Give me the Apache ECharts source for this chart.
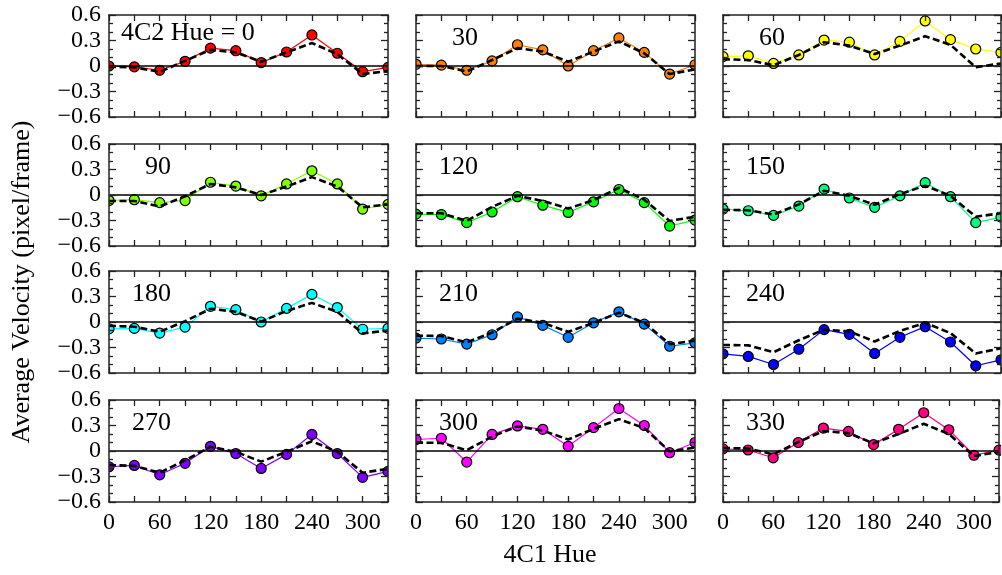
<!DOCTYPE html>
<html><head><meta charset="utf-8">
<script src="https://cdn.jsdelivr.net/npm/echarts@6/dist/echarts.min.js"></script>
<style>html,body{margin:0;padding:0;background:#fff}#c{width:1002px;height:575px}</style>
</head><body><div id="c"></div>
<script>
const x1Hue = [0, 30, 60, 90, 120, 150, 180, 210, 240, 270, 300, 330];
const panelHue = [0, 30, 60, 90, 120, 150, 180, 210, 240, 270, 300, 330];
const xTickLabels = ['0', '60', '120', '180', '240', '300'];
const yTickLabels = ['0.6', '0.3', '0', '\u22120.3', '\u22120.6'];

const obs0   = [0.0, -0.01, -0.05, 0.055, 0.21, 0.18, 0.04, 0.165, 0.365, 0.15, -0.067, -0.016];
const fit0   = [-0.01, -0.015, -0.07, 0.06, 0.19, 0.16, 0.05, 0.16, 0.27, 0.14, -0.095, -0.06];
const obs30  = [0.02, 0.01, -0.05, 0.06, 0.25, 0.19, 0.0, 0.18, 0.33, 0.16, -0.095, 0.015];
const fit30  = [0.0, 0.0, -0.065, 0.07, 0.21, 0.17, 0.05, 0.17, 0.29, 0.15, -0.095, -0.04];
const obs60  = [0.11, 0.12, 0.03, 0.13, 0.305, 0.28, 0.13, 0.29, 0.53, 0.31, 0.2, 0.16];
const fit60  = [0.08, 0.07, 0.01, 0.13, 0.28, 0.24, 0.14, 0.24, 0.35, 0.25, -0.015, 0.03];
const obs90  = [-0.065, -0.055, -0.09, -0.065, 0.15, 0.105, -0.01, 0.13, 0.285, 0.13, -0.165, -0.11];
const fit90  = [-0.07, -0.07, -0.135, -0.015, 0.13, 0.09, 0.0, 0.1, 0.21, 0.1, -0.145, -0.11];
const obs120 = [-0.225, -0.23, -0.325, -0.2, -0.02, -0.12, -0.205, -0.08, 0.065, -0.09, -0.365, -0.295];
const fit120 = [-0.215, -0.215, -0.305, -0.14, -0.01, -0.07, -0.16, -0.06, 0.085, -0.055, -0.305, -0.255];
const obs150 = [-0.165, -0.185, -0.24, -0.13, 0.07, -0.035, -0.145, -0.01, 0.145, -0.02, -0.325, -0.26];
const fit150 = [-0.175, -0.18, -0.23, -0.11, 0.05, -0.01, -0.115, 0.01, 0.11, -0.01, -0.255, -0.215];
const obs180 = [-0.08, -0.075, -0.13, -0.06, 0.185, 0.145, 0.0, 0.16, 0.325, 0.17, -0.085, -0.075];
const fit180 = [-0.045, -0.055, -0.115, 0.01, 0.155, 0.12, 0.005, 0.13, 0.225, 0.12, -0.135, -0.1];
const obs210 = [-0.19, -0.2, -0.26, -0.15, 0.06, -0.04, -0.18, -0.01, 0.12, -0.025, -0.285, -0.245];
const fit210 = [-0.16, -0.165, -0.24, -0.125, 0.04, -0.01, -0.115, -0.01, 0.11, -0.01, -0.26, -0.22];
const obs240 = [-0.375, -0.405, -0.5, -0.32, -0.09, -0.145, -0.37, -0.18, -0.055, -0.235, -0.515, -0.445];
const fit240 = [-0.27, -0.275, -0.355, -0.215, -0.09, -0.11, -0.23, -0.105, -0.01, -0.13, -0.37, -0.31];
const obs270 = [-0.185, -0.17, -0.28, -0.145, 0.055, -0.03, -0.205, -0.04, 0.195, -0.03, -0.31, -0.24];
const fit270 = [-0.165, -0.175, -0.255, -0.11, 0.05, -0.01, -0.125, -0.01, 0.115, -0.01, -0.255, -0.21];
const obs300 = [0.135, 0.15, -0.13, 0.195, 0.295, 0.255, 0.055, 0.275, 0.5, 0.3, -0.02, 0.1];
const fit300 = [0.1, 0.095, 0.01, 0.17, 0.29, 0.24, 0.135, 0.26, 0.375, 0.27, -0.005, 0.04];
const obs330 = [0.025, 0.012, -0.08, 0.1, 0.27, 0.23, 0.075, 0.255, 0.45, 0.25, -0.05, 0.01];
const fit330 = [0.035, 0.03, -0.04, 0.105, 0.235, 0.21, 0.09, 0.2, 0.32, 0.2, -0.06, -0.01];

const observed = [obs0, obs30, obs60, obs90, obs120, obs150, obs180, obs210, obs240, obs270, obs300, obs330];
const fitted = [fit0, fit30, fit60, fit90, fit120, fit150, fit180, fit210, fit240, fit270, fit300, fit330];
const panelColors = ['#ff0000', '#ff8000', '#ffff00', '#80ff00', '#00ff00', '#00ff80',
                     '#00ffff', '#0080ff', '#0000ff', '#8000ff', '#ff00ff', '#ff0080'];

const FONT = '"Liberation Serif", "Times New Roman", serif';
const colLeft = [109, 416, 723];
const colWidth = [279, 279, 278];
const rowTop = [15, 144, 271, 400];
const H = 102;

const grids = [], xAxes = [], yAxes = [], series = [], graphics = [];
const lineAx = { lineStyle: { color: '#222', width: 1.5 } };

panelHue.forEach((hue, i) => {
  const r = Math.floor(i / 3), c = i % 3;
  const L = colLeft[c], T = rowTop[r], W = colWidth[c];
  grids.push({ left: L, top: T, width: W, height: H, show: false });
  const bottomRow = r === 3, leftCol = c === 0;
  // bottom x axis
  xAxes.push({
    type: 'value', gridIndex: i, position: 'bottom', min: 0, max: 330, interval: 30, z: 10,
    axisLine: { show: true, onZero: false, lineStyle: { color: '#222', width: 1.5 } },
    axisTick: { show: true, inside: true, length: 6, lineStyle: { color: '#222', width: 1.3 } },
    splitLine: { show: false },
    axisLabel: {
      show: bottomRow, margin: 9, color: '#000', fontFamily: FONT, fontSize: 24,
      formatter: v => (v % 60 === 0 && xTickLabels.indexOf(String(v)) >= 0) ? String(v) : ''
    }
  });
  // top mirror x axis
  xAxes.push({
    type: 'value', gridIndex: i, position: 'top', min: 0, max: 330, interval: 30, z: 10,
    axisLine: { show: true, onZero: false, lineStyle: { color: '#222', width: 1.5 } },
    axisTick: { show: true, inside: true, length: 6, lineStyle: { color: '#222', width: 1.3 } },
    splitLine: { show: false }, axisLabel: { show: false }
  });
  const yCommon = {
    type: 'value', gridIndex: i, min: -0.6, max: 0.6, interval: 0.3, z: 10,
    axisLine: { show: true, onZero: false, lineStyle: { color: '#222', width: 1.5 } },
    axisTick: { show: true, inside: true, length: 7, lineStyle: { color: '#222', width: 1.3 } },
    minorTick: { show: true, splitNumber: 3, length: 4, lineStyle: { color: '#222', width: 1.3 } },
    splitLine: { show: false }, minorSplitLine: { show: false }
  };
  yAxes.push(Object.assign({}, yCommon, {
    position: 'left',
    axisLabel: {
      show: leftCol, margin: 8, color: '#000', fontFamily: FONT, fontSize: 24,
      formatter: v => {
        const k = Math.round((0.6 - v) / 0.3);
        return yTickLabels[k] !== undefined ? yTickLabels[k] : '';
      }
    }
  }));
  yAxes.push(Object.assign({}, yCommon, { position: 'right', axisLabel: { show: false } }));

  const xi = i * 2, yi = i * 2;
  series.push({
    type: 'line', xAxisIndex: xi, yAxisIndex: yi, z: 3,
    data: x1Hue.map((x, k) => [x, observed[i][k]]),
    symbol: 'circle', symbolSize: 10,
    lineStyle: { color: panelColors[i], width: 1.2 },
    itemStyle: { color: panelColors[i], borderColor: '#000', borderWidth: 1.2 },
    emphasis: { disabled: true }, animation: false,
    markLine: {
      silent: true, symbol: 'none', label: { show: false }, animation: false,
      lineStyle: { color: '#000', width: 1.6, type: 'solid' },
      data: [{ yAxis: 0 }]
    }
  });
  series.push({
    type: 'line', xAxisIndex: xi, yAxisIndex: yi, z: 4,
    data: x1Hue.map((x, k) => [x, fitted[i][k]]),
    symbol: 'none',
    lineStyle: { color: '#000', width: 2.6, type: [7, 3.5] },
    emphasis: { disabled: true }, animation: false
  });

  // white strips hiding marks outside each panel
  const s = 8;
  [[L - s, T - s, s, H + 2 * s], [L + W, T - s, s, H + 2 * s],
   [L - s, T - s, W + 2 * s, s], [L - s, T + H, W + 2 * s, s]].forEach(b => {
    graphics.push({ type: 'rect', z: 6, silent: true,
      shape: { x: b[0], y: b[1], width: b[2], height: b[3] }, style: { fill: '#fff' } });
  });

  // panel label
  if (i === 0) {
    graphics.push({ type: 'text', z: 20, x: L + 12, y: T + 18,
      style: { text: '4C2 Hue = ' + hue, font: '26px ' + FONT, fill: '#000',
        textAlign: 'left', textVerticalAlign: 'middle' } });
  } else {
    graphics.push({ type: 'text', z: 20, x: L + 62, y: T + 23,
      style: { text: String(hue), font: '26px ' + FONT, fill: '#000',
        textAlign: 'right', textVerticalAlign: 'middle' } });
  }
});

graphics.push({ type: 'text', z: 20, x: 22, y: 282, rotation: Math.PI / 2,
  style: { text: 'Average Velocity (pixel/frame)', font: '26px ' + FONT, fill: '#000',
    textAlign: 'center', textVerticalAlign: 'middle' } });
graphics.push({ type: 'text', z: 20, x: 550, y: 555,
  style: { text: '4C1 Hue', font: '26px ' + FONT, fill: '#000',
    textAlign: 'center', textVerticalAlign: 'middle' } });

const chart = echarts.init(document.getElementById('c'), null, { renderer: 'canvas' });
chart.setOption({
  animation: false,
  backgroundColor: '#fff',
  grid: grids, xAxis: xAxes, yAxis: yAxes, series: series, graphic: graphics
});
</script></body></html>
